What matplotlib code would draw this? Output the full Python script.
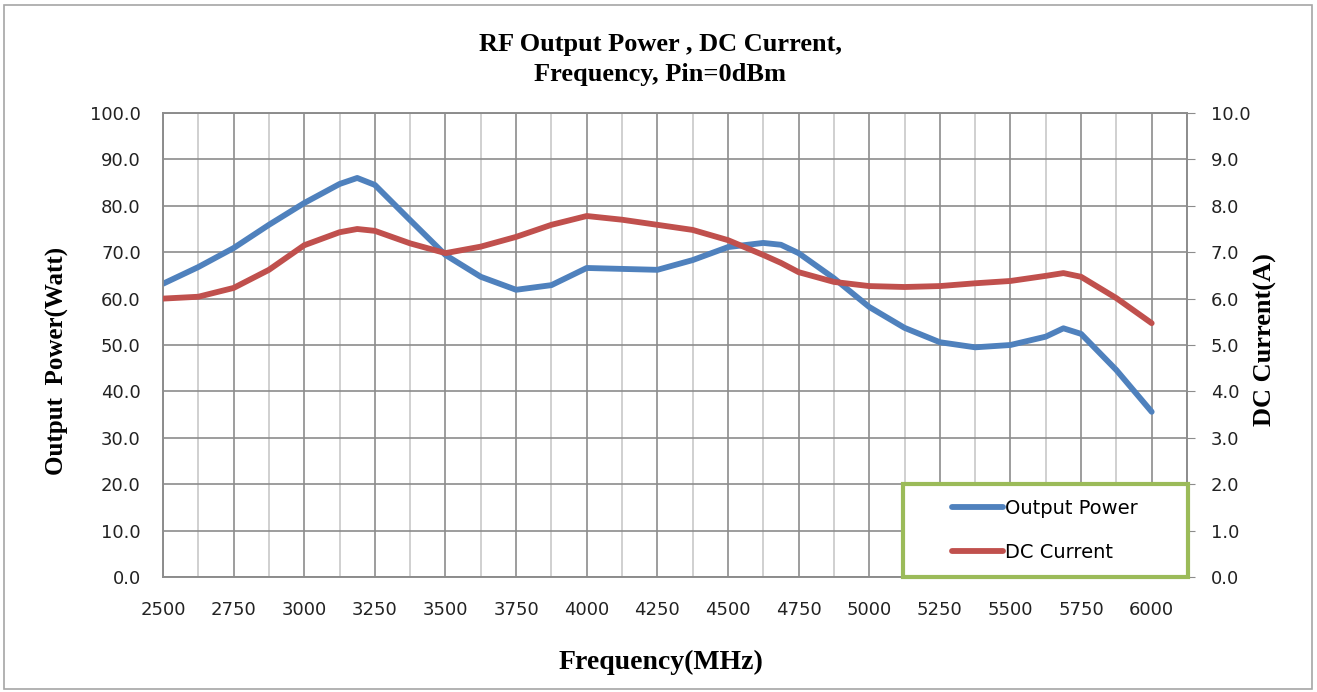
import matplotlib
matplotlib.use("Agg")
import matplotlib.pyplot as plt
import matplotlib.patches as mpatches
from matplotlib.ticker import MultipleLocator

# frequency (MHz) (every 125 MHz plus the local peaks)
freq = [2500, 2625, 2750, 2875, 3000, 3125, 3187.5, 3250, 3375, 3500, 3625, 3750,
        3875, 4000, 4125, 4250, 4375, 4500, 4625, 4687.5, 4750, 4875, 5000, 5125,
        5250, 5375, 5500, 5625, 5687.5, 5750, 5875, 6000]

# output power (W), left axis
power = [63.2, 66.8, 70.9, 75.9, 80.6, 84.7, 86.0, 84.5, 76.9, 69.4, 64.7, 61.9,
         62.9, 66.6, 66.4, 66.2, 68.3, 71.1, 72.0, 71.6, 69.8, 64.4, 58.2, 53.7,
         50.6, 49.5, 50.0, 51.8, 53.6, 52.4, 44.6, 35.6]

# DC current (A), right axis
current = [6.00, 6.04, 6.23, 6.62, 7.15, 7.43, 7.50, 7.46, 7.19, 6.98, 7.12, 7.33,
           7.59, 7.78, 7.70, 7.59, 7.48, 7.26, 6.94, 6.77, 6.57, 6.36, 6.27, 6.25,
           6.27, 6.33, 6.38, 6.49, 6.55, 6.47, 6.01, 5.47]

blue = '#4F81BD'
red = '#C0504D'
serif = ['Liberation Serif', 'DejaVu Serif']

fig = plt.figure(figsize=(13.17, 6.92), dpi=100)
ax = fig.add_axes([163 / 1317, 1 - 577 / 692, 1024 / 1317, 464 / 692])
ax2 = ax.twinx()

########### grid ##################
ax.set_xlim(2500, 6125)
ax.set_ylim(0, 100)
ax2.set_ylim(0, 10)
ax.xaxis.set_minor_locator(MultipleLocator(125))
ax.yaxis.set_major_locator(MultipleLocator(10))
ax2.yaxis.set_major_locator(MultipleLocator(1))
ax.set_xticks(range(2500, 6001, 250))

ax.grid(which='major', axis='x', color='#8C8C8C', lw=1.2)
ax.grid(which='minor', axis='x', color='#C8C8C8', lw=1.2)
ax.grid(which='major', axis='y', color='#8C8C8C', lw=1.2)
ax.set_axisbelow(True)

for a in (ax, ax2):
    for s in a.spines.values():
        s.set_color('#8C8C8C')
        s.set_linewidth(1.2)

ax.tick_params(axis='x', which='both', length=0, pad=17, labelsize=13, colors='#222222')
ax.tick_params(axis='y', length=0, pad=16, labelsize=13, colors='#222222')
ax2.tick_params(axis='y', length=6, color='#8C8C8C', pad=11, labelsize=13, labelcolor='#222222')
ax.yaxis.set_major_formatter('{x:.1f}')
ax2.yaxis.set_major_formatter('{x:.1f}')

########### curves ##################
ax.plot(freq, power, color=blue, lw=4.2, solid_capstyle='round', solid_joinstyle='round', zorder=3)
ax2.plot(freq, current, color=red, lw=4.2, solid_capstyle='round', solid_joinstyle='round', zorder=3)

########### text ##################
fig.text(660 / 1317, 1 - 45 / 692, 'RF Output Power , DC Current,', ha='center', va='center',
         family=serif, weight='bold', fontsize=19)
fig.text(660 / 1317, 1 - 74 / 692, 'Frequency, Pin=0dBm', ha='center', va='center',
         family=serif, weight='bold', fontsize=19)
fig.text(661 / 1317, 1 - 662 / 692, 'Frequency(MHz)', ha='center', va='center',
         family=serif, weight='bold', fontsize=20)
fig.text(57 / 1317, 1 - 361 / 692, 'Output  Power(Watt)', ha='center', va='center',
         rotation=90, family=serif, weight='bold', fontsize=18)
fig.text(1265 / 1317, 1 - 340 / 692, 'DC Current(A)', ha='center', va='center',
         rotation=90, family=serif, weight='bold', fontsize=19)

########### legend ##################
box = mpatches.Rectangle((0.7227, 0.0), 0.278, 0.2, transform=ax2.transAxes,
                         fill=True, fc='white', ec='#9BBB59', lw=3, zorder=5, clip_on=False)
ax2.add_patch(box)
h1 = plt.Line2D([], [], color=blue, lw=4.2, solid_capstyle='round')
h2 = plt.Line2D([], [], color=red, lw=4.2, solid_capstyle='round')
leg = ax2.legend([h1, h2], ['Output Power', 'DC Current'], loc='center left',
                 bbox_to_anchor=(0.761, 0.10), frameon=False, fontsize=14,
                 handlelength=2.6, handletextpad=0.15, labelspacing=1.28, borderpad=0)
leg.set_zorder(6)

########### chart border ##################
fig.patches.append(mpatches.Rectangle((4 / 1317, 3 / 692), 1308 / 1317, 684 / 692,
                                      transform=fig.transFigure, fill=False,
                                      ec='#A6A6A6', lw=1.2))

fig.savefig('out.png', dpi=100)
